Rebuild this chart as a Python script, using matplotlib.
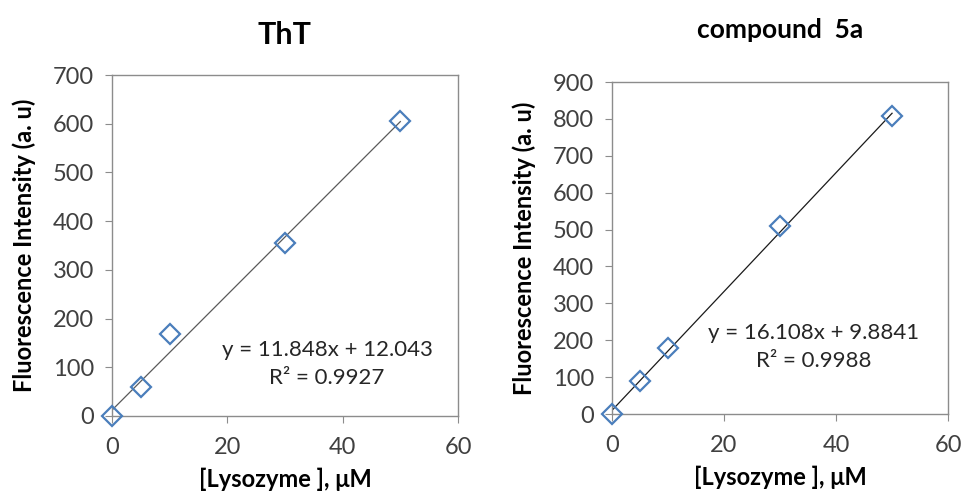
import numpy as np
import matplotlib
matplotlib.use("Agg")
import matplotlib.pyplot as plt

plt.rcParams["font.family"] = ["Lato", "DejaVu Sans"]

lysozyme = [0, 5, 10, 30, 50]
tht_intensity = [0, 59, 169, 356, 606]
cmp5a_intensity = [0, 90, 178, 510, 808]

tht_fit = (11.848, 12.043, 0.9927)
cmp5a_fit = (16.108, 9.8841, 0.9988)

TICK_COLOR = "#404040"
MARKER_COLOR = "#4a7ebb"


def draw_panel(ax, y, fit, ymax, title, title_size, title_pad, line_color, eq_pos):
    slope, intercept, r2 = fit
    xs = np.array([0, 50])
    ax.plot(xs, slope * xs + intercept, color=line_color, lw=0.9, zorder=2)
    ax.plot(lysozyme, y, linestyle="none", marker="D", markersize=10,
            markerfacecolor="none", markeredgecolor=MARKER_COLOR,
            markeredgewidth=1.6, zorder=3, clip_on=False)
    ax.set_xlim(0, 60)
    ax.set_ylim(0, ymax)
    ax.set_xticks([0, 20, 40, 60])
    ax.set_yticks(np.arange(0, ymax + 1, 100))
    ax.tick_params(labelsize=17, colors=TICK_COLOR, length=5, width=0.8,
                   color="#8c8c8c")
    ax.tick_params(axis="x", pad=10)
    ax.tick_params(axis="y", pad=8)
    for s in ax.spines.values():
        s.set_color("#8c8c8c")
        s.set_linewidth(1.0)
    ax.set_xlabel("[Lysozyme ], \u03bcM", fontsize=17, fontweight="bold",
                  labelpad=7)
    ax.set_ylabel("Fluorescence Intensity (a. u)", fontsize=17,
                  fontweight="bold", labelpad=12)
    ax.set_title(title, fontsize=title_size, fontweight="bold", pad=title_pad)
    ax.text(eq_pos[0], eq_pos[1],
            f"y = {slope}x + {intercept}\nR\u00b2 = {r2}",
            ha="center", va="center", fontsize=16, color="#262626",
            linespacing=1.5)


fig = plt.figure(figsize=(9.63, 4.97), dpi=100)
ax1 = fig.add_axes([0.1163, 0.163, 0.3593, 0.686])
ax2 = fig.add_axes([0.6355, 0.167, 0.349, 0.668])

draw_panel(ax1, tht_intensity, tht_fit, 700, "ThT", 22, 22, "#5a5a5a",
           (37.3, 107))
draw_panel(ax2, cmp5a_intensity, cmp5a_fit, 900, "compound  5a", 19, 32,
           "#1a1a1a", (36.0, 182))

fig.savefig("out.png", dpi=100)
